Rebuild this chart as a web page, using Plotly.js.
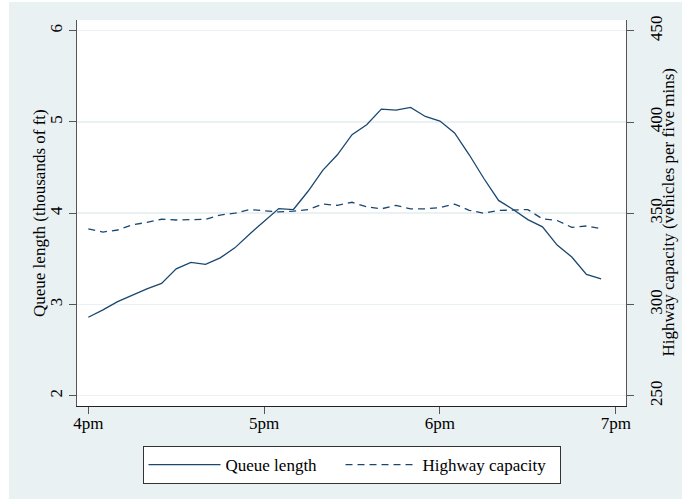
<!DOCTYPE html>
<html>
<head>
<meta charset="utf-8">
<script src="https://cdn.plot.ly/plotly-3.0.1.min.js"></script>
<style>html,body{margin:0;padding:0;background:#fff;}#chart{width:682px;height:499px;}</style>
</head>
<body>
<div id="chart"></div>
<script>
// Minutes after 4pm (5-minute intervals)
const minutes = [0,5,10,15,20,25,30,35,40,45,50,55,60,65,70,75,80,85,90,95,100,105,110,115,120,125,130,135,140,145,150,155,160,165,170,175];
// Queue length (thousands of ft)
const queueLength = [2.86,2.94,3.03,3.10,3.17,3.23,3.39,3.46,3.44,3.51,3.62,3.77,3.91,4.05,4.04,4.24,4.47,4.64,4.86,4.97,5.14,5.13,5.16,5.06,5.01,4.88,4.64,4.38,4.14,4.04,3.93,3.85,3.65,3.52,3.33,3.28];
// Highway capacity (vehicles per five mins)
const highwayCapacity = [341.4,339.7,340.8,343.6,345.0,346.7,346.3,346.3,346.7,349.0,350.0,352.0,351.2,350.7,351.1,352.0,355.0,354.3,356.0,353.5,352.4,354.3,352.4,352.4,353.1,355.0,351.6,350.0,351.5,351.6,352.0,346.9,346.0,342.3,343.0,341.6];
const xTickVals = [0,60,120,180];
const xTickText = ['4pm','5pm','6pm','7pm'];
const yTicks = [2,3,4,5,6];
const y2Ticks = [250,300,350,400,450];
const yTitle = 'Queue length (thousands of ft)';
const y2Title = 'Highway capacity (vehicles per five mins)';

const navy = '#1a476f';
const bg = '#e9f1f2';
const axisCol = '#555555';
const font = {family: '"Liberation Serif", "Times New Roman", serif', size: 17, color: '#000'};

const traces = [
  {x: minutes, y: queueLength, type: 'scatter', mode: 'lines', name: 'Queue length',
   line: {color: navy, width: 1.3}, yaxis: 'y', legendwidth: 110},
  {x: minutes, y: highwayCapacity, type: 'scatter', mode: 'lines', name: 'Highway capacity',
   line: {color: navy, width: 1.3, dash: '7px,5px'}, yaxis: 'y2', legendwidth: 132}
];

const layout = {
  width: 682, height: 499,
  margin: {l: 77, r: 56, t: 20, b: 93},
  paper_bgcolor: bg, plot_bgcolor: '#ffffff',
  font: font,
  showlegend: true,
  legend: {orientation: 'h', x: 0.5, xanchor: 'center', y: -0.104, yanchor: 'top',
           bgcolor: '#ffffff', bordercolor: '#333333', borderwidth: 1,
           font: font, itemwidth: 72, traceorder: 'normal'},
  xaxis: {range: [-3.86, 183.5], tickvals: xTickVals, ticktext: xTickText,
          showgrid: false, zeroline: false, showline: true, linecolor: '#222', linewidth: 1.3,
          ticks: 'outside', ticklen: 7, tickcolor: axisCol, tickfont: font, ticklabelstandoff: -6},
  yaxis: {range: [1.887, 6.117], tickvals: yTicks, tickangle: -90,
          showgrid: true, gridcolor: bg, gridwidth: 1.5, zeroline: false,
          showline: true, linecolor: axisCol, linewidth: 1.3,
          ticks: 'outside', ticklen: 7, tickcolor: axisCol, tickfont: font},
  yaxis2: {range: [244.35, 455.9], tickvals: y2Ticks, tickangle: -90, overlaying: 'y', side: 'right',
          showgrid: false, zeroline: false,
          showline: true, linecolor: axisCol, linewidth: 1.3,
          ticks: 'outside', ticklen: 7, tickcolor: axisCol, tickfont: font, ticklabelstandoff: 7},
  annotations: [
    {text: yTitle, xref: 'paper', yref: 'paper', x: (39 - 77) / 549, y: 0.5,
     xanchor: 'center', yanchor: 'middle', textangle: -90, showarrow: false, font: font},
    {text: y2Title, xref: 'paper', yref: 'paper', x: (667.5 - 77) / 549, y: 0.5,
     xanchor: 'center', yanchor: 'middle', textangle: -90, showarrow: false, font: font}
  ],
  shapes: [
    {type: 'rect', xref: 'paper', yref: 'paper', x0: -0.2, x1: (9 - 77) / 549, y0: -0.3, y1: 1.1,
     fillcolor: '#ffffff', line: {width: 0}, layer: 'below'},
    {type: 'rect', xref: 'paper', yref: 'paper', x0: -0.2, x1: 1.2, y0: (406 - 2) / 386, y1: 1.1,
     fillcolor: '#ffffff', line: {width: 0}, layer: 'below'}
  ]
};

Plotly.newPlot('chart', traces, layout, {displayModeBar: false, staticPlot: true});
</script>
</body>
</html>
